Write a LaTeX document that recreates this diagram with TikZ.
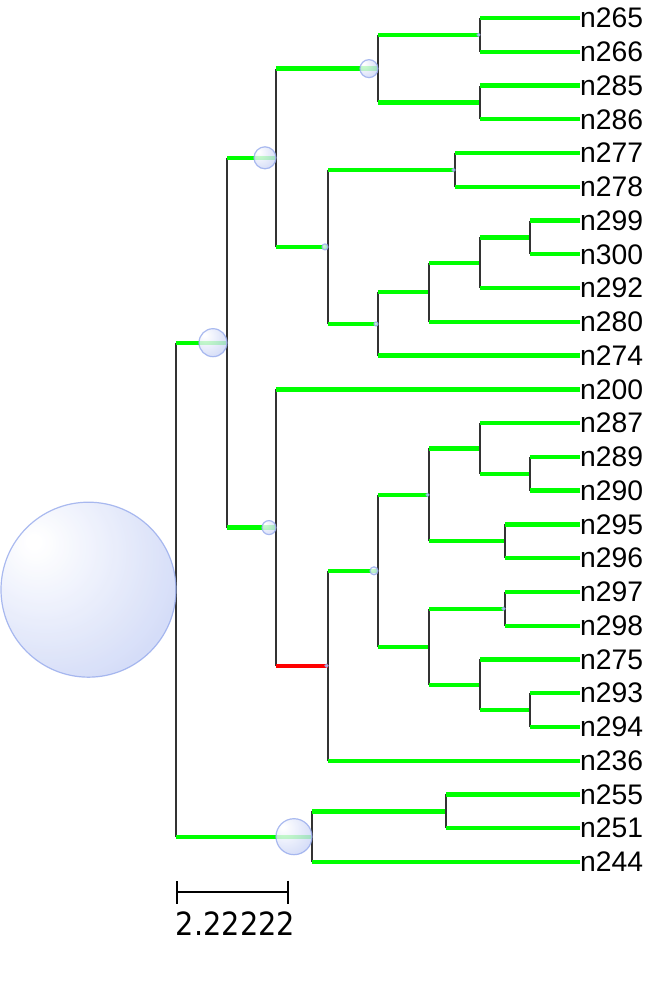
\documentclass[tikz,border=0pt]{standalone}
\usepackage{fontspec}
\setmainfont{Liberation Sans}
\newfontfamily\barfont{DejaVu Sans Condensed}
\usepackage{tikz}
\usetikzlibrary{arrows.meta}
\definecolor{branchgreen}{RGB}{0,255,0}
\definecolor{branchred}{RGB}{255,0,0}
\definecolor{bubblue}{RGB}{186,199,243}
\definecolor{bubedge}{RGB}{150,170,236}
\pgfdeclareradialshading{bubshade}{\pgfpoint{-16bp}{14bp}}{color(0bp)=(white); color(2bp)=(white); color(48bp)=(bubblue); color(100bp)=(bubblue)}

\begin{document}
\begin{tikzpicture}[x=1pt, y=-1pt,
joint/.style={inner sep=0pt, minimum size=0pt},
leaf/.style={anchor=west, inner sep=0pt, font=\fontsize{28.3}{30}\selectfont},
branch/.style={draw=branchgreen, line width=4.3pt},
redbranch/.style={draw=branchred, line width=4.3pt},
vline/.style={draw=black!80, line width=1.1pt},
bubble/.style={shade, shading=bubshade, draw=bubedge, line width=1.2pt, opacity=0.8},
]
\useasboundingbox (0,0) rectangle (648,993);

\foreach \name [count=\i from 0] in {265,266,285,286,277,278,299,300,292,280,274,200,287,289,290,295,296,297,298,275,293,294,236,255,251,244}
  \node[leaf] (n\name) at (580,18+\i*33.76) {n\name};

\node[joint] (root) at (176,589.68) {};
\node[joint] (a) at (227,342.68) {};
\node[joint] (a1) at (276,157.8) {};
\node[joint] (a11) at (378,68.64) {};
\node[joint] (c1) at (480,34.88) {};
\node[joint] (c2) at (480,102.4) {};
\node[joint] (a12) at (328,246.9) {};
\node[joint] (d1) at (455,169.92) {};
\node[joint] (d2) at (378,323.95) {};
\node[joint] (d21) at (429,292.3) {};
\node[joint] (d211) at (480,262.76) {};
\node[joint] (d2111) at (530,237.44) {};
\node[joint] (a2) at (276,527.57) {};
\node[joint] (e) at (328,665.77) {};
\node[joint] (e1) at (378,570.82) {};
\node[joint] (e11) at (429,494.86) {};
\node[joint] (e111) at (480,448.44) {};
\node[joint] (e1112) at (530,473.76) {};
\node[joint] (e112) at (505,541.28) {};
\node[joint] (e12) at (429,646.78) {};
\node[joint] (e121) at (505,608.8) {};
\node[joint] (e122) at (480,684.76) {};
\node[joint] (e1222) at (530,710.08) {};
\node[joint] (b) at (312,836.68) {};
\node[joint] (b1) at (446,811.36) {};

\foreach \p/\f/\l in {root/a/b, a/a1/a2, a1/a11/a12, a11/c1/c2, c1/n265/n266, c2/n285/n286,
  a12/d1/d2, d1/n277/n278, d2/d21/n274, d21/d211/n280, d211/d2111/n292, d2111/n299/n300,
  e/e1/n236, e1/e11/e12, e11/e111/e112, e111/n287/e1112, e1112/n289/n290, e112/n295/n296,
  e12/e121/e122, e121/n297/n298, e122/n275/e1222, e1222/n293/n294, b/b1/n244, b1/n255/n251}
{
  \draw[vline] (\p |- \f.west) -- (\p |- \l.west);
  \draw[branch] (\p |- \f.west) -- (\f.west);
  \draw[branch] (\p |- \l.west) -- (\l.west);
}
\draw[vline] (a2 |- n200.west) -- (a2 |- e.west);
\draw[branch] (a2 |- n200.west) -- (n200.west);
\draw[redbranch] (a2 |- e.west) -- (e.west);

\foreach \p/\r in {root/87.5, a/14, b/18, a1/11, a2/7, a11/9, a12/3, d2/2, e1/4, c1/1.5, d1/1.5, e/1.5, e11/1.5, e121/1.5}
  \path[bubble] ([xshift=-\r pt]\p.center) circle (\r pt);

\coordinate (sb0) at (176,892);
\coordinate (sb1) at (289,892);
\draw[line width=1.6pt, {Bar[width=23pt]}-{Bar[width=23pt]}] (sb0) -- (sb1);
\node[inner sep=0pt, font=\barfont\fontsize{32}{34}\selectfont] (sblabel) at (235.5,924) {2.22222};

\end{tikzpicture}
\end{document}
